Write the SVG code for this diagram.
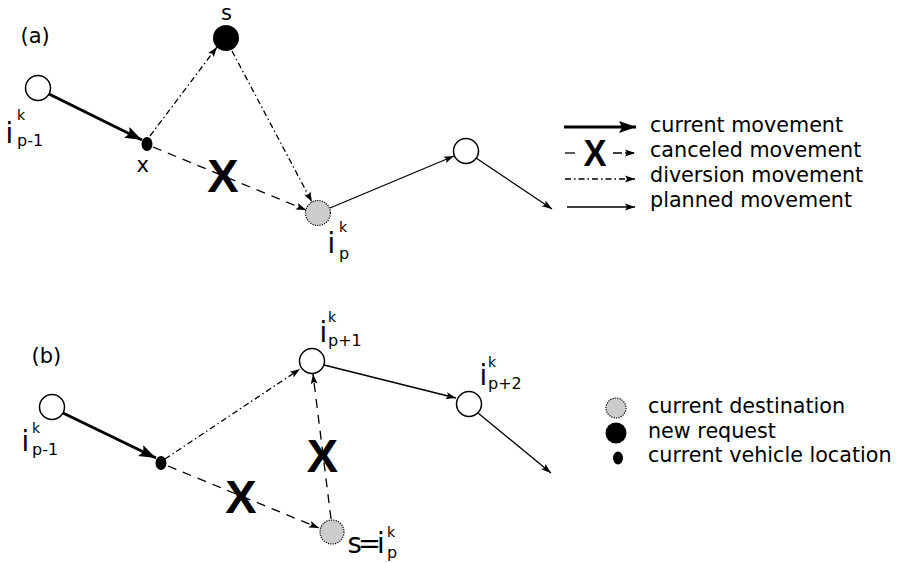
<svg xmlns="http://www.w3.org/2000/svg" width="897" height="563" viewBox="0 0 897 563">
<defs>
<style>
text{font-family:"DejaVu Sans","Liberation Sans",sans-serif;fill:#000}
.lbl{font-size:21px}
.leg{font-size:20.7px}
.i{font-size:27.5px}
.k{font-size:14px}
.sub{font-size:16px}
.bigx{font-family:"Liberation Sans",Arial,sans-serif;font-weight:bold;font-size:47px;text-anchor:middle}
.open{fill:#fff;stroke:#000;stroke-width:1.5}
.dest{fill:#cccccc;stroke:#000;stroke-width:1.2;stroke-dasharray:1.2,1.2}
.req{fill:#000}
.veh{fill:#000}
.cur{fill:none;stroke:#000;stroke-width:3;marker-end:url(#big)}
.plan{fill:none;stroke:#000;stroke-width:1.3;marker-end:url(#small)}
.canc{fill:none;stroke:#000;stroke-width:1.3;stroke-dasharray:9,7;marker-end:url(#small)}
.div{fill:none;stroke:#000;stroke-width:1.3;stroke-dasharray:6,3,1.5,3;marker-end:url(#small)}
</style>
<marker id="big" markerUnits="userSpaceOnUse" markerWidth="20" markerHeight="14" refX="17" refY="6" orient="auto" overflow="visible">
<path d="M0,0 L17,6 L0,12 L3,6 z" fill="#000"/>
</marker>
<marker id="small" markerUnits="userSpaceOnUse" markerWidth="12" markerHeight="8" refX="10" refY="3.5" orient="auto" overflow="visible">
<path d="M0,0 L10,3.5 L0,7 L2,3.5 z" fill="#000"/>
</marker>
</defs>

<g id="connectors">
<!-- panel a -->
<line class="cur" x1="49" y1="94" x2="142" y2="140"/>
<line class="div" x1="150" y1="136" x2="217" y2="47"/>
<line class="div" x1="232" y1="51" x2="312" y2="202"/>
<line class="canc" x1="153" y1="147" x2="306" y2="210"/>
<line class="plan" x1="330" y1="208" x2="454" y2="156"/>
<line class="plan" x1="476" y1="158" x2="552" y2="209"/>
<!-- panel b -->
<line class="cur" x1="63" y1="413" x2="156" y2="458"/>
<line class="div" x1="165" y1="459" x2="300" y2="369"/>
<line class="canc" x1="168" y1="466" x2="319" y2="528"/>
<line class="canc" x1="331" y1="519" x2="313" y2="374"/>
<line class="plan" x1="324" y1="365" x2="456" y2="398"/>
<line class="plan" x1="478" y1="413" x2="551" y2="473"/>
<!-- legend lines -->
<line class="cur" x1="564" y1="127" x2="636" y2="127"/>
<line x1="565" y1="153" x2="575" y2="153" stroke="#000" stroke-width="1.3"/>
<line class="canc" x1="613" y1="153" x2="635" y2="153" style="stroke-dasharray:9,3"/>
<line class="div" x1="565" y1="179" x2="635" y2="179"/>
<line class="plan" x1="567" y1="207" x2="635" y2="207"/>
</g>

<g id="cancel-marks">
<text class="bigx" x="223" y="192">X</text>
<text class="bigx" x="241" y="513">X</text>
<text class="bigx" x="322.5" y="472">X</text>
<text class="bigx" x="595" y="166" style="font-size:36px" textLength="23" lengthAdjust="spacingAndGlyphs">X</text>
</g>

<g id="panel-labels">
<text class="lbl" x="20.5" y="43">(a)</text>
<text class="lbl" x="31.5" y="363">(b)</text>
</g>

<g id="a-prev">
<circle class="open" cx="38" cy="88" r="12.5"/>
<text><tspan class="i" x="5.4" y="143">i</tspan><tspan class="k" x="17" y="120">k</tspan><tspan class="sub" x="17" y="146">p-1</tspan></text>
</g>
<g id="a-vehicle">
<ellipse class="veh" cx="147" cy="144" rx="5.5" ry="7"/>
<text class="lbl" x="136.5" y="172">x</text>
</g>
<g id="a-request">
<circle class="req" cx="226" cy="38" r="13"/>
<text class="lbl" x="221" y="20">s</text>
</g>
<g id="a-dest">
<circle class="dest" cx="318" cy="213" r="12.5"/>
<text><tspan class="i" x="327.4" y="253">i</tspan><tspan class="k" x="339" y="232">k</tspan><tspan class="sub" x="339" y="259">p</tspan></text>
</g>
<g id="a-next">
<circle class="open" cx="466" cy="151" r="12.5"/>
</g>

<g id="b-prev">
<circle class="open" cx="52" cy="407" r="12.5"/>
<text><tspan class="i" x="21.4" y="451">i</tspan><tspan class="k" x="32" y="433">k</tspan><tspan class="sub" x="32" y="455">p-1</tspan></text>
</g>
<g id="b-vehicle">
<ellipse class="veh" cx="161" cy="463" rx="5.5" ry="7"/>
</g>
<g id="b-p1">
<circle class="open" cx="312" cy="361" r="12.5"/>
<text><tspan class="i" x="319.4" y="342">i</tspan><tspan class="k" x="328" y="322">k</tspan><tspan class="sub" x="328" y="346">p+1</tspan></text>
</g>
<g id="b-p2">
<circle class="open" cx="469" cy="404" r="12.5"/>
<text><tspan class="i" x="479.4" y="385">i</tspan><tspan class="k" x="488" y="367">k</tspan><tspan class="sub" x="488" y="389">p+2</tspan></text>
</g>
<g id="b-dest">
<circle class="dest" cx="332" cy="532" r="12"/>
<text><tspan class="i" x="347.6" y="553" letter-spacing="-4">s=i</tspan><tspan class="k" x="387" y="537">k</tspan><tspan class="sub" x="387" y="558">p</tspan></text>
</g>

<g id="legend-a">
<text class="leg" x="650" y="132">current movement</text>
<text class="leg" x="650" y="157">canceled movement</text>
<text class="leg" x="650" y="182">diversion movement</text>
<text class="leg" x="650" y="207">planned movement</text>
</g>
<g id="legend-b">
<circle class="dest" cx="616" cy="408" r="10"/>
<circle class="req" cx="616" cy="433" r="10.5"/>
<ellipse class="veh" cx="618" cy="458" rx="5" ry="6.5"/>
<text class="leg" x="648" y="413">current destination</text>
<text class="leg" x="648" y="437.5">new request</text>
<text class="leg" x="648" y="462">current vehicle location</text>
</g>
</svg>
